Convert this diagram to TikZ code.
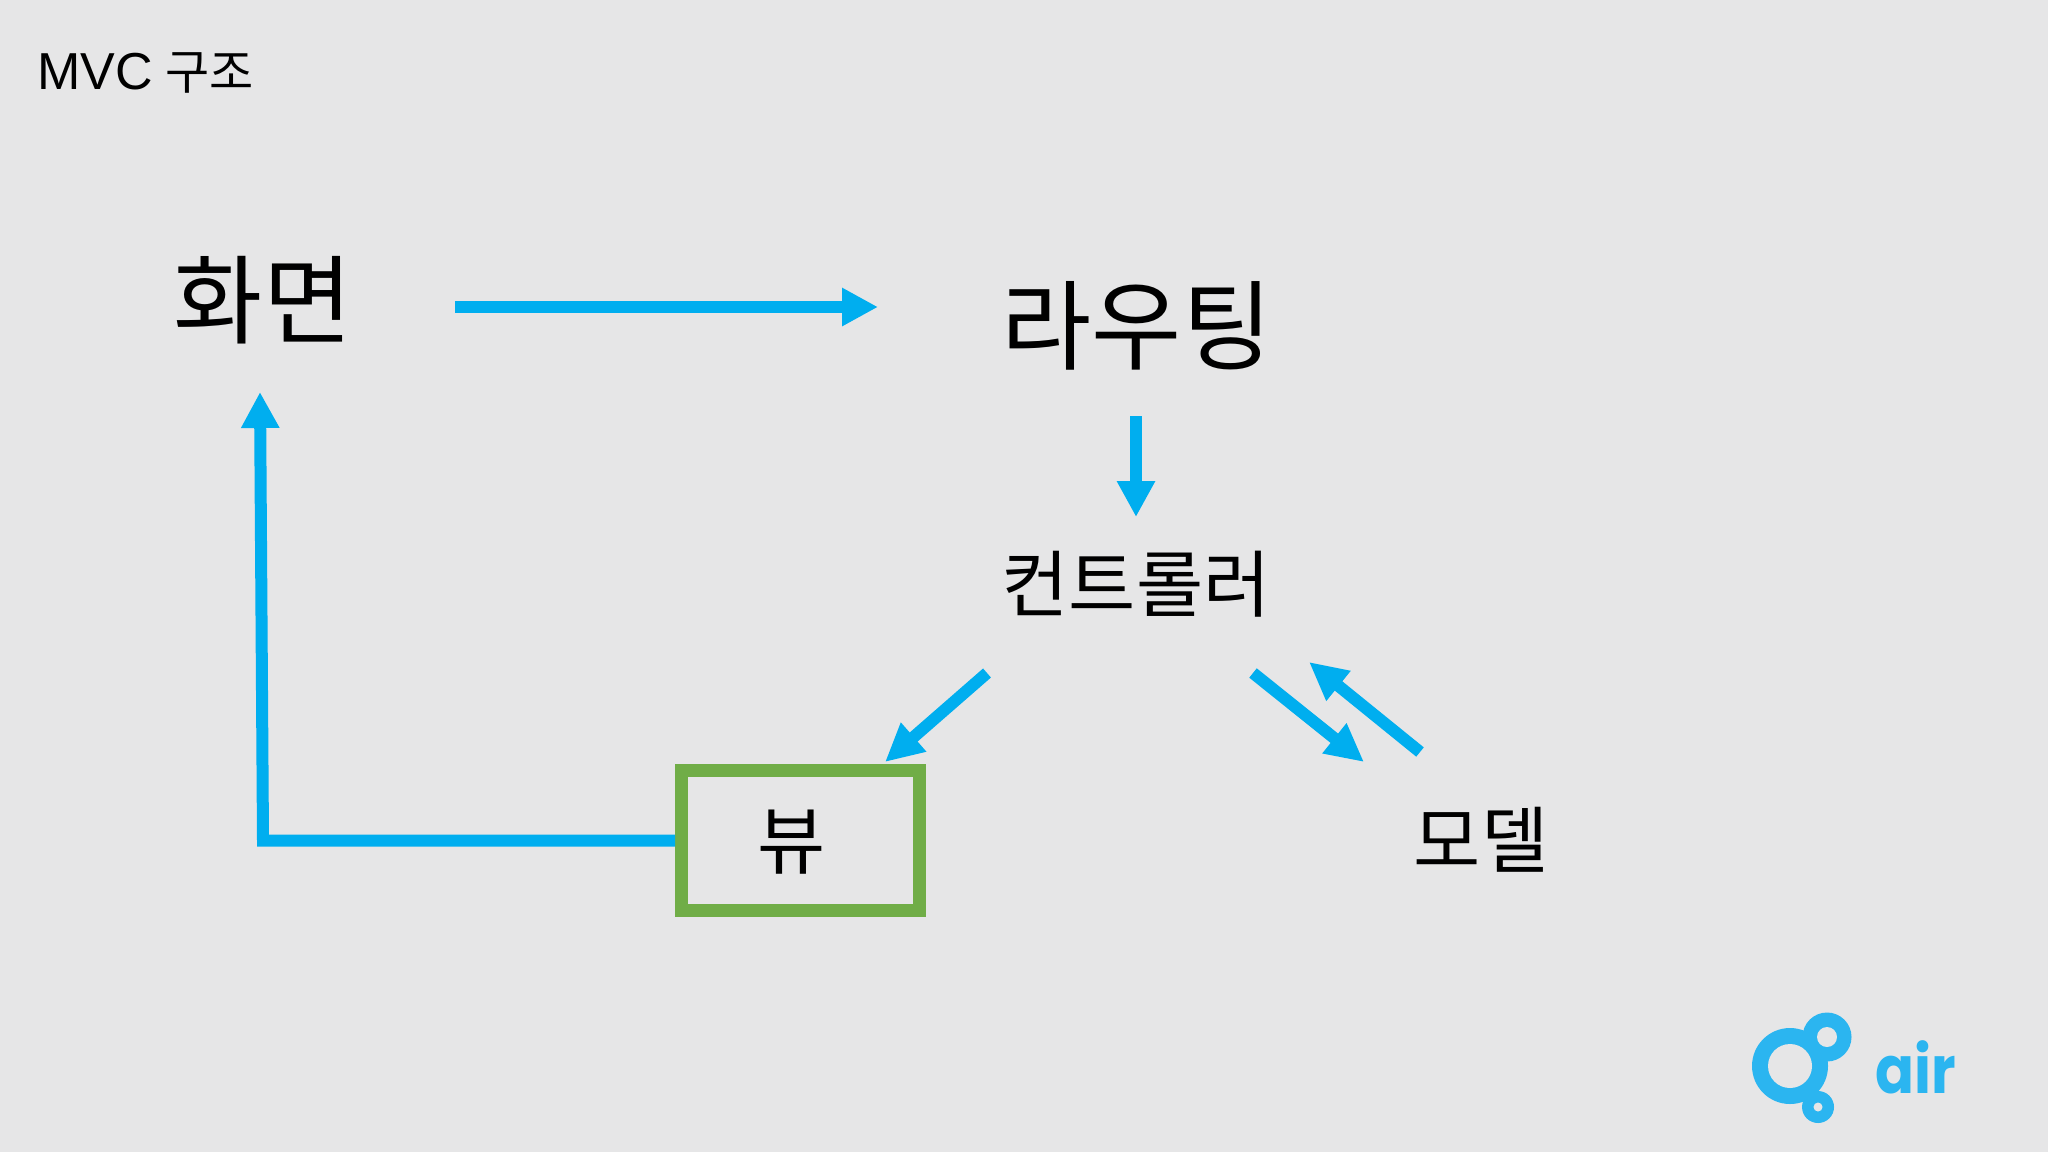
\documentclass[tikz,border=0pt]{standalone}
\usepackage{fontspec}
\usepackage{graphicx}
\usetikzlibrary{arrows.meta}
\setmainfont{Liberation Sans}
\newfontfamily\kr{Noto Sans CJK KR}
\newfontfamily\logofont{Poppins}
\definecolor{bgc}{HTML}{E6E6E7}
\definecolor{arrowc}{HTML}{00AEEF}
\definecolor{boxc}{HTML}{70AD47}
\definecolor{logoc}{HTML}{2BB5F0}
\tikzset{
  lbl/.style={inner sep=0pt,text=black,font=\kr},
  flow/.style={draw=arrowc,line width=6pt,-{Triangle[length=18pt,width=18pt,fill=arrowc]}},
  diag/.style={draw=arrowc,line width=6pt,-{Triangle[length=19pt,width=18pt,fill=arrowc]}},
  viewbox/.style={draw=boxc,line width=6.5pt,minimum width=119pt,minimum height=70pt,inner sep=0pt},
  logodisc/.style={fill=logoc,draw=none},
  logohole/.style={fill=bgc,draw=none}
}
\begin{document}
\begin{tikzpicture}[x=0.5pt,y=-0.5pt]
\useasboundingbox (0,0) rectangle (2048,1152);
\fill[bgc] (0,0) rectangle (2048,1152);

\node[inner sep=0pt,anchor=base west,font=\fontsize{26}{30}\selectfont] (title) at (37,89) {MVC\hspace{-1pt} {\kr\fontsize{24}{28}\selectfont 구조}};

\node[lbl,font=\kr\fontsize{48.5}{56}\selectfont] (screen) at (263,300) {화면};
\node[lbl,font=\kr\fontsize{49}{56}\selectfont] (routing) at (1137,326) {라우팅};
\node[lbl,font=\kr\fontsize{36.5}{40}\selectfont] (controller) at (1136,584) {컨트롤러};
\node[viewbox] (view) at (800.5,840.5) {};
\node[lbl,font=\kr\fontsize{37}{40}\selectfont] (viewlabel) at (792,842) {뷰};
\node[lbl,font=\kr\fontsize{36.5}{40}\selectfont] (model) at (1481,840) {모델};

\coordinate (a1s) at (455,307);
\coordinate (a1e) at (878,307);
\coordinate (a2s) at (1136,416);
\coordinate (a2e) at (1136,517);
\coordinate (elbow) at (263,840.5);
\coordinate (a3e) at (260,392);
\coordinate (a4s) at (987,673);
\coordinate (a4e) at (885,762);
\coordinate (a5s) at (1253,673);
\coordinate (a5e) at (1364,762);
\coordinate (a6s) at (1420,752);
\coordinate (a6e) at (1309,662);

\draw[flow] (a1s) -- (a1e);
\draw[flow] (a2s) -- (a2e);
\draw[flow,line join=miter] (view.west) -- (elbow) -- (a3e);
\draw[diag] (a4s) -- (a4e);
\draw[diag] (a5s) -- (a5e);
\draw[diag] (a6s) -- (a6e);

% logo
\fill[logodisc] (1790,1066) circle (38);
\fill[logodisc] (1827,1037) circle (24.5);
\fill[logodisc] (1818,1107) circle (16);
\fill[logohole] (1790,1066) circle (22);
\fill[logohole] (1827,1037) circle (10);
\fill[logohole] (1818,1107) circle (4.5);
\node[inner sep=0pt,anchor=base west,text=logoc,font=\logofont\bfseries\fontsize{33}{44}\selectfont] (air) at (1875,1093) {\scalebox{.87}[1]{air}};
\end{tikzpicture}
\end{document}
